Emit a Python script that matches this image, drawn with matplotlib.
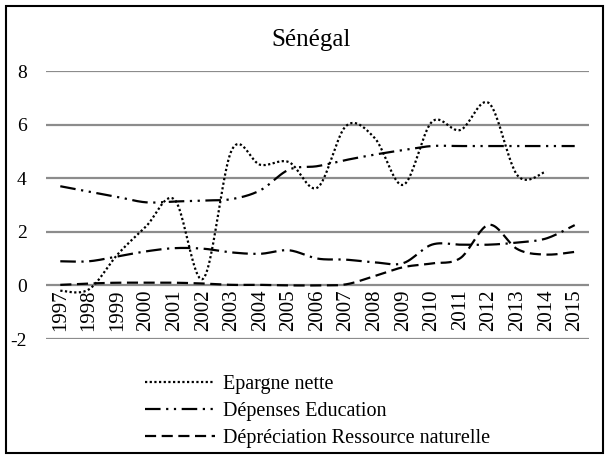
import numpy as np
import matplotlib
matplotlib.use("Agg")
import matplotlib.pyplot as plt
from matplotlib.lines import Line2D
from matplotlib.patches import Rectangle

plt.rcParams["font.family"] = ["Liberation Serif", "DejaVu Serif"]

years = [str(y) for y in range(1997, 2016)]

# Series values (% of GNI)
epargne_nette = [-0.2, -0.15, 1.15, 2.2, 3.2, 0.25, 5.05, 4.5, 4.6, 3.65, 5.95,
                 5.5, 3.75, 6.1, 5.8, 6.8, 4.1, 4.25, np.nan]
depenses_education = [3.7, 3.5, 3.3, 3.1, 3.13, 3.17, 3.22, 3.55, 4.32, 4.45, 4.68,
                      4.88, 5.05, 5.2, 5.2, 5.2, 5.2, 5.2, 5.2]
serie_sans_legende = [0.9, 0.9, 1.08, 1.27, 1.39, 1.37, 1.23, 1.18, 1.31, 1.0, 0.96,
                      0.86, 0.83, 1.52, 1.52, 1.52, 1.6, 1.75, 2.25]
depreciation_ressource = [0.02, 0.07, 0.1, 0.1, 0.1, 0.07, 0.02, 0.02, 0.0, 0.0, 0.04,
                          0.35, 0.68, 0.82, 1.02, 2.26, 1.35, 1.15, 1.25]

yticks = [-2, 0, 2, 4, 6, 8]


def smooth(xs, ys, n=24):
    """Bezier smoothing through the points (same idea as a spreadsheet 'smoothed line')."""
    xs = np.asarray(xs, float)
    ys = np.asarray(ys, float)
    ok = ~np.isnan(ys)
    xs, ys = xs[ok], ys[ok]
    px = np.concatenate([[xs[0]], xs, [xs[-1]]])
    py = np.concatenate([[ys[0]], ys, [ys[-1]]])
    out_x, out_y = [], []
    t = np.linspace(0, 1, n)
    for i in range(1, len(px) - 2):
        p0 = np.array([px[i - 1], py[i - 1]])
        p1 = np.array([px[i], py[i]])
        p2 = np.array([px[i + 1], py[i + 1]])
        p3 = np.array([px[i + 2], py[i + 2]])
        c1 = p1 + (p2 - p0) / 6
        c2 = p2 - (p3 - p1) / 6
        b = ((1 - t) ** 3)[:, None] * p1 + (3 * (1 - t) ** 2 * t)[:, None] * c1 \
            + (3 * (1 - t) * t ** 2)[:, None] * c2 + (t ** 3)[:, None] * p2
        out_x.extend(b[:, 0])
        out_y.extend(b[:, 1])
    return np.array(out_x), np.array(out_y)


fig = plt.figure(figsize=(6.08, 4.58), dpi=100)
ax = fig.add_axes([46 / 608, 119 / 458, 543 / 608, 268 / 458])

x = np.arange(len(years))
lw = 1.6
styles = [
    (epargne_nette, (0, (1, 1.1)), "Epargne nette"),
    (depenses_education, (0, (7, 2.5, 1, 2.5, 1, 2.5)), "Dépenses Education"),
    (serie_sans_legende, (0, (7, 2.5, 1, 2.5)), None),
    (depreciation_ressource, (0, (5, 2.5)), "Dépréciation Ressource naturelle"),
]
handles, labels = [], []
for values, ls, name in styles:
    sx, sy = smooth(x, values)
    ax.plot(sx, sy, color="black", lw=lw, linestyle=ls)
    if name:
        handles.append(Line2D([], [], color="black", lw=lw, linestyle=ls))
        labels.append(name)

ax.set_xlim(-0.5, len(years) - 0.5)
ax.set_ylim(-2, 8)
ax.set_yticks(yticks)
ax.set_yticklabels([str(v) for v in yticks], fontsize=14)
ax.tick_params(axis="y", length=0, pad=14)
ax.set_xticks([])
ax.grid(axis="y", color="#8c8c8c", lw=1.6)
ax.set_axisbelow(True)
for s in ax.spines.values():
    s.set_visible(False)

# category labels sit just under the zero line
for i, yr in enumerate(years):
    ax.annotate(yr, (i, 0), xytext=(0, -3), textcoords="offset points",
                rotation=90, ha="center", va="top", fontsize=15)

fig.text(0.512, 1 - 40 / 458, "Sénégal", ha="center", va="center", fontsize=18)

fig.legend(handles, labels, loc="upper left", bbox_to_anchor=(145 / 608, 1 - 375 / 458),
           frameon=False, fontsize=14.5, handlelength=3.5, handletextpad=0.35,
           labelspacing=0.4, borderpad=0, borderaxespad=0)

fig.add_artist(Rectangle((6 / 608, 5 / 458), 597 / 608, 447 / 458, transform=fig.transFigure,
                         fill=False, edgecolor="black", lw=1.5))

fig.savefig("out.png", dpi=100)
